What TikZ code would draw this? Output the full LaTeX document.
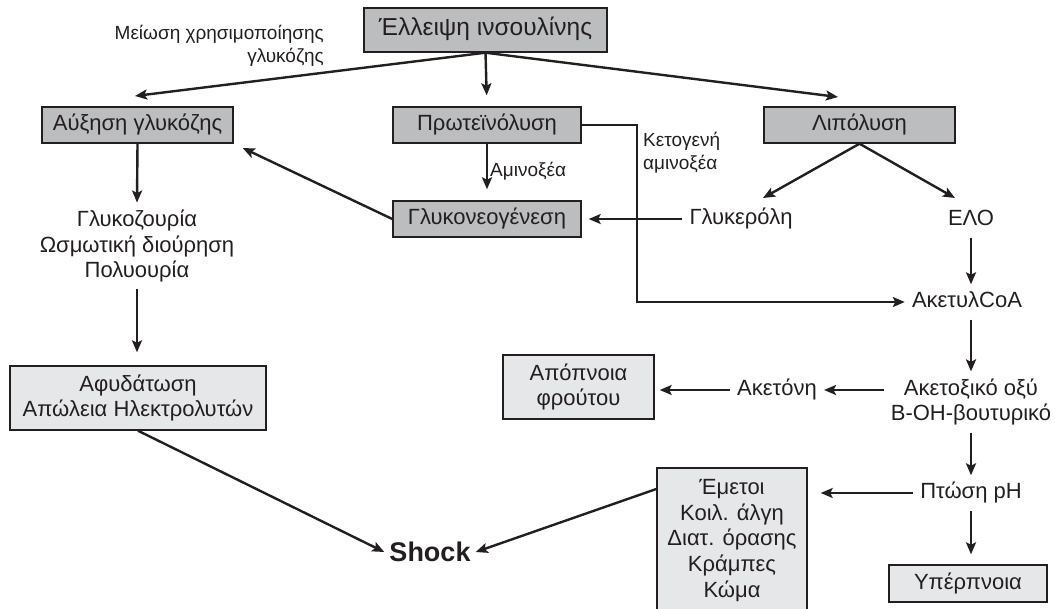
\documentclass[tikz,border=0pt]{standalone}
\usepackage{fontspec}
\setmainfont{Liberation Sans}
\usetikzlibrary{arrows.meta}
\definecolor{boxdark}{HTML}{BCBDBF}
\definecolor{boxlight}{HTML}{E6E7E8}
\definecolor{ink}{HTML}{231F20}
\newcommand{\mainfont}{\fontsize{22}{25.7}\selectfont}
\newcommand{\lblfont}{\fontsize{19}{23}\selectfont}
\tikzset{
  darkbox/.style={draw=ink, line width=1.4pt, fill=boxdark, text=ink, inner sep=0pt,
    minimum height=36pt, text height=16pt, text depth=5pt, font=\mainfont},
  lightbox/.style={draw=ink, line width=1.4pt, fill=boxlight, text=ink, inner sep=0pt,
    align=center, font=\mainfont},
  plain/.style={text=ink, inner sep=7pt, text height=16pt, text depth=5pt, font=\mainfont},
  block/.style={text=ink, inner sep=7pt, align=center, font=\mainfont},
  lbl/.style={text=ink, inner sep=0pt, font=\lblfont},
  arr/.style={draw=ink, line width=2.4pt, -{Stealth[length=12pt,width=10pt,inset=2.5pt]}},
}

\begin{document}
\begin{tikzpicture}[x=1pt,y=-1pt]
  \useasboundingbox (0,0) rectangle (1055,608);
  % top
  \node[darkbox, minimum width=243pt, minimum height=44pt, font=\fontsize{24.5}{28}\selectfont] (ins) at (485.5,30) {Έλλειψη ινσουλίνης};
  \node[lbl, anchor=east, align=right] (use) at (324,46) {Μείωση χρησιμοποίησης\\γλυκόζης};
  % row 1
  \node[darkbox, minimum width=191pt] (aux) at (137.5,125) {Αύξηση γλυκόζης};
  \node[darkbox, minimum width=188pt] (prot) at (487,125) {Πρωτεϊνόλυση};
  \node[darkbox, minimum width=191pt] (lip) at (859.5,125) {Λιπόλυση};
  % row 2
  \node[block] (uria) at (137,246) {Γλυκοζουρία\\Ωσμωτική διούρηση\\Πολυουρία};
  \node[darkbox, minimum width=188pt] (gluc) at (487,219) {Γλυκονεογένεση};
  \node[plain] (glyc) at (741,219) {Γλυκερόλη};
  \node[plain] (elo) at (971,220) {ΕΛΟ};
  \node[lbl, anchor=west] (amino) at (490,171) {Αμινοξέα};
  \node[lbl, anchor=west, align=left] (keto) at (643,153) {Κετογενή\\αμινοξέα};
  % right column
  \node[plain] (acoa) at (967,302) {ΑκετυλCoA};
  \node[block] (ket) at (971,402) {Ακετοξικό οξύ\\B-OH-βουτυρικό};
  \node[plain] (acet) at (777,390) {Ακετόνη};
  \node[lightbox, minimum width=151pt, minimum height=64pt] (apo) at (578.5,387) {Απόπνοια\\φρούτου};
  \node[plain] (ph) at (971,493) {Πτώση pH};
  \node[darkbox, fill=boxlight, minimum width=158pt, minimum height=37pt] (hyp) at (968,583.5) {Υπέρπνοια};
  % bottom left
  \node[lightbox, minimum width=256pt, minimum height=64pt] (dehy) at (138,398) {Αφυδάτωση\\Απώλεια Ηλεκτρολυτών};
  \node[lightbox, minimum width=150pt, minimum height=145pt] (sym) at (732,540.5) {Έμετοι\\Κοιλ. άλγη\\Διατ. όρασης\\Κράμπες\\Κώμα};
  \node[text=ink, inner sep=5pt, font=\fontsize{27}{30}\selectfont\bfseries] (shock) at (430,552) {Shock};
  % free ends
  \coordinate (auxin) at (135,96);
  \coordinate (lipin) at (838,97);
  \coordinate (glycin) at (763,198);
  \coordinate (eloin) at (955,198);
  % connectors
  \draw[arr] (ins.south) -- (auxin);
  \draw[arr] (ins.south) -- (lipin);
  \draw[arr, shorten >=11pt] (ins.south) -- (prot.north);
  \draw[arr, shorten >=11pt] (prot.south) -- (gluc.north);
  \draw[arr, shorten >=10pt] (gluc.west) -- (aux.south east);
  \draw[arr] (lip.south) -- (glycin);
  \draw[arr] (lip.south) -- (eloin);
  \draw[arr, shorten >=7pt] (glyc.west) -- (gluc.east);
  \draw[arr] (prot.east) -- ++(55,0) |- (acoa.west);
  \draw[arr] (aux.south) -- (uria.north);
  \draw[arr, shorten >=13pt] (uria.south) -- (uria.south |- dehy.north);
  \draw[arr] (elo.south) -- (elo.south |- acoa.north);
  \draw[arr] (acoa.south -| ket.north) -- (ket.north);
  \draw[arr] (ket.west |- acet.east) -- (acet.east);
  \draw[arr, shorten >=5pt] (acet.west) -- (acet.west -| apo.east);
  \draw[arr] (ket.south) -- (ph.north);
  \draw[arr, shorten >=13pt] (ph.west) -- (ph.west -| sym.east);
  \draw[arr, shorten >=10pt] (ph.south) -- (ph.south |- hyp.north);
  \draw[arr] (dehy.south) -- (shock.west);
  \draw[arr] ([yshift=51.5pt]sym.west) -- (shock.east);
\end{tikzpicture}
\end{document}
